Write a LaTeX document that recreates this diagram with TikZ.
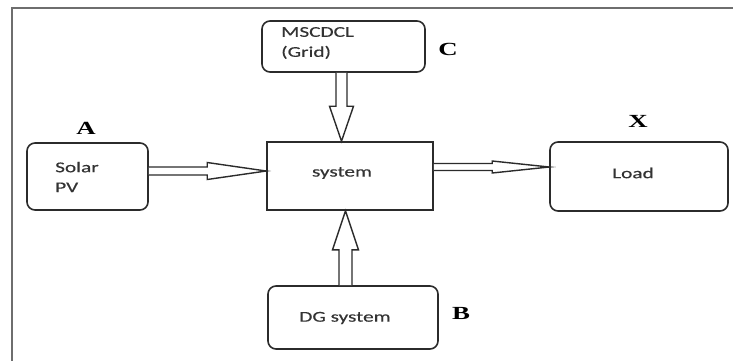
\documentclass[tikz,border=0pt]{standalone}
\usepackage{fontspec}
\setmainfont{Carlito}[FakeStretch=1.42,FakeBold=0.4]
\newfontfamily\lblfont{Liberation Serif}[FakeStretch=1.45]
\usetikzlibrary{calc}
\definecolor{boxline}{HTML}{2B2B2B}
\definecolor{boxtextcol}{HTML}{333333}
\definecolor{framecol}{HTML}{6E6E6E}
\newcommand{\hollowarrow}[5]{%
  \path ($(#2)!#5!(#1)$) coordinate (hb);
  \draw[arrowline] ($(#1)!#3!90:(#2)$) -- ($(hb)!#3!90:(#2)$) -- ($(hb)!#4!90:(#2)$) -- (#2)
    -- ($(hb)!#4!-90:(#2)$) -- ($(hb)!#3!-90:(#2)$) -- ($(#1)!#3!-90:(#2)$);
}
\tikzset{
  rbox/.style={draw=boxline, line width=1.6pt, rounded corners=8pt, inner sep=0pt},
  sbox/.style={draw=boxline, line width=1.6pt, inner sep=0pt},
  btext/.style={text=boxtextcol, font=\fontsize{15}{20}\selectfont, inner sep=0pt, align=left},
  lbl/.style={font=\lblfont\bfseries\fontsize{18.5}{20}\selectfont, inner sep=0pt},
  arrowline/.style={draw=boxline, line width=1.4pt, fill=white, line join=miter},
}
\begin{document}
\begin{tikzpicture}[x=1pt,y=-1pt]
\useasboundingbox (0,0) rectangle (733,360);
\draw[framecol, line width=2.8pt] (12,362) -- (12,8) -- (735,8);
% boxes
\node[rbox, minimum width=121pt, minimum height=67pt] (solar) at (87.5,176.5) {};
\node[rbox, minimum width=163pt, minimum height=51pt] (grid) at (343.5,46.5) {};
\node[sbox, minimum width=166pt, minimum height=68pt] (sys) at (350,176) {};
\node[rbox, minimum width=178pt, minimum height=69pt] (load) at (639,176.5) {};
\node[rbox, minimum width=170pt, minimum height=63pt] (dg) at (353,317.5) {};
% texts
\node[btext, anchor=west] (solart) at (55,177) {Solar\\PV};
\node[btext, anchor=west] (gridt) at (281,43) {MSCDCL\\(Grid)};
\node[btext] (syst) at (342,173) {system};
\node[btext] (loadt) at (633,173) {Load};
\node[btext] (dgt) at (345,318) {DG system};
% labels
\node[lbl] (la) at (86,128) {A};
\node[lbl] (lc) at (448,49) {C};
\node[lbl] (lx) at (638,121) {X};
\node[lbl] (lb) at (461,313) {B};
% arrows
\coordinate (s1) at ($(solar.east)+(0,-5.5)$);
\coordinate (t1) at (sys.west |- s1);
\hollowarrow{s1}{t1}{4pt}{8.5pt}{59pt}
\coordinate (s2) at ($(grid.south)+(-2,0)$);
\coordinate (t2) at (sys.north -| s2);
\hollowarrow{s2}{t2}{5.5pt}{12pt}{35pt}
\coordinate (s3) at ($(dg.north)+(-7.5,0)$);
\coordinate (t3) at (sys.south -| s3);
\hollowarrow{s3}{t3}{6.5pt}{13pt}{39pt}
\coordinate (s4) at ($(sys.east)+(0,-9)$);
\coordinate (t4) at (load.west |- s4);
\hollowarrow{s4}{t4}{3.5pt}{6pt}{57pt}
\end{tikzpicture}
\end{document}
